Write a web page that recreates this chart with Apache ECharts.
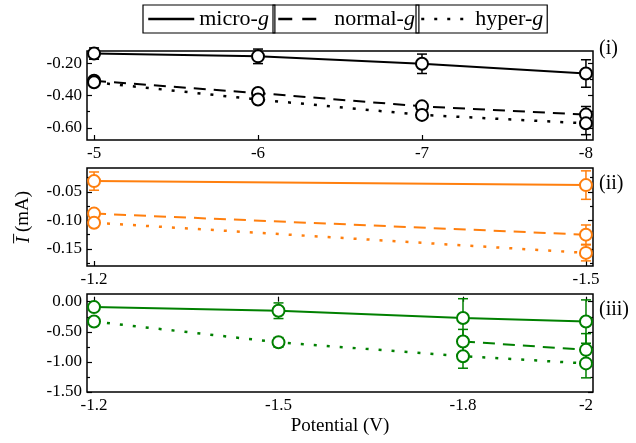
<!DOCTYPE html>
<html><head><meta charset="utf-8">
<script src="https://cdn.jsdelivr.net/npm/echarts@6/dist/echarts.min.js"></script>
<style>html,body{margin:0;padding:0;background:#fff}#c{width:636px;height:443px}</style>
</head><body><div id="c"></div>
<script>
// ---------- Data: panel (i) ----------
const potentialsI = [-5, -6, -7, -8];
const microI = [-0.141, -0.158, -0.204, -0.264];
const microIErr = [0.035, 0.045, 0.06, 0.085];
const normalI = [-0.309, -0.385, -0.467, -0.518];
const normalIErr = [0.01, 0.015, 0.02, 0.05];
const hyperI = [-0.318, -0.425, -0.52, -0.572];
const hyperIErr = [0.01, 0.015, 0.015, 0.07];
// ---------- Data: panel (ii) ----------
const potentialsII = [-1.2, -1.5];
const microII = [-0.031, -0.038];
const microIIErr = [0.016, 0.025];
const normalII = [-0.088, -0.125];
const normalIIErr = [0.006, 0.017];
const hyperII = [-0.104, -0.157];
const hyperIIErr = [0.006, 0.014];
// ---------- Data: panel (iii) ----------
const potentialsIII = [-1.2, -1.5, -1.8, -2.0];
const microIII = [-0.09, -0.15, -0.27, -0.33];
const microIIIErr = [0.05, 0.13, 0.32, 0.36];
const normalIII = [null, null, -0.66, -0.80];
const normalIIIErr = [null, null, 0.2, 0.27];
const hyperIII = [-0.33, -0.675, -0.905, -1.025];
const hyperIIIErr = [0.05, 0.08, 0.2, 0.24];
// ---------- Tick labels ----------
const xTicksI = [-5, -6, -7, -8];
const xTicksII = [-1.2, -1.5];
const xTicksIII = [-1.2, -1.5, -1.8, -2];
const yTicksI = [-0.2, -0.4, -0.6];
const yMinorI = [-0.3, -0.5];
const yTicksII = [-0.05, -0.10, -0.15];
const yMinorII = [-0.025, -0.075, -0.125, -0.175];
const yTicksIII = [0, -0.5, -1.0, -1.5];
const yMinorIII = [-0.25, -0.75, -1.25];
const seriesNames = ['micro-g', 'normal-g', 'hyper-g'];
const panelLabels = ['(i)', '(ii)', '(iii)'];

const FONT = 'Liberation Serif';
const colors = ['#000000', '#ff7f0e', '#008000'];
const lineTypes = ['solid', [12, 8], [3, 10]];
const lineWidths = [2, 2, 2.5];

const panels = [
  {pot: potentialsI, vals: [microI, normalI, hyperI], errs: [microIErr, normalIErr, hyperIErr],
   xt: xTicksI, yt: yTicksI, ym: yMinorI, xmin: -8.043, xmax: -4.957, ymin: -0.675, ymax: -0.125,
   top: 51, height: 89},
  {pot: potentialsII, vals: [microII, normalII, hyperII], errs: [microIIErr, normalIIErr, hyperIIErr],
   xt: xTicksII, yt: yTicksII, ym: yMinorII, xmin: -1.5043, xmax: -1.1957, ymin: -0.18, ymax: -0.008,
   top: 168, height: 98},
  {pot: potentialsIII, vals: [microIII, normalIII, hyperIII], errs: [microIIIErr, normalIIIErr, hyperIIIErr],
   xt: xTicksIII, yt: yTicksIII, ym: yMinorIII, xmin: -2.0114, xmax: -1.1886, ymin: -1.5, ymax: 0.128,
   top: 294, height: 98}
];

const grid = [], xAxis = [], yAxis = [], series = [], title = [];
const labelTop = [39, 174, 300];
panels.forEach((p, g) => {
  grid.push({left: 87, right: 43, top: p.top, height: p.height, show: true,
    borderColor: '#000', borderWidth: 1.5, backgroundColor: 'transparent'});
  const xa = {type: 'value', gridIndex: g, min: p.xmin, max: p.xmax, inverse: true,
    axisLine: {show: false}, splitLine: {show: false},
    axisTick: {show: true, inside: true, length: 5, customValues: p.xt, lineStyle: {color: '#000', width: 1.2}},
    axisLabel: {customValues: p.xt, formatter: v => String(Math.round(v * 10) / 10), fontSize: 17,
      fontFamily: FONT, color: '#000', margin: 5}};
  if (g === 2) {
    xa.name = 'Potential (V)'; xa.nameLocation = 'middle'; xa.nameGap = 25;
    xa.nameTextStyle = {fontSize: 19, fontFamily: FONT, color: '#000'};
  }
  xAxis.push(xa);
  ['left', 'right'].forEach(pos => {
    const major = {type: 'value', gridIndex: g, position: pos, min: p.ymin, max: p.ymax,
      axisLine: {show: false}, splitLine: {show: false},
      axisTick: {show: true, inside: true, length: 5, customValues: p.yt, lineStyle: {color: '#000', width: 1.2}},
      axisLabel: pos === 'left' ? {customValues: p.yt, formatter: v => v.toFixed(2), fontSize: 17,
        fontFamily: FONT, color: '#000', margin: 5} : {show: false}};
    if (pos === 'left' && g === 1) {
      major.name = '{it|I\u0305} (mA)'; major.nameLocation = 'middle'; major.nameGap = 54; major.nameRotate = 90;
      major.nameTextStyle = {fontSize: 19, fontFamily: FONT, color: '#000',
        rich: {it: {fontStyle: 'italic', fontSize: 19, fontFamily: FONT, color: '#000'}}};
    }
    yAxis.push(major);
    yAxis.push({type: 'value', gridIndex: g, position: pos, min: p.ymin, max: p.ymax,
      axisLine: {show: false}, splitLine: {show: false}, axisLabel: {show: false},
      axisTick: {show: true, inside: true, length: 3, customValues: p.ym, lineStyle: {color: '#000', width: 1.2}}});
  });
  title.push({text: panelLabels[g], left: 599, top: labelTop[g], padding: 0,
    textStyle: {fontSize: 20, fontFamily: FONT, fontWeight: 'normal', color: '#000'}});
  const col = colors[g];
  p.vals.forEach((vals, s) => {
    const errData = [];
    p.pot.forEach((x, i) => { if (vals[i] !== null) errData.push([x, vals[i], p.errs[s][i]]); });
    series.push({type: 'custom', xAxisIndex: g, yAxisIndex: g * 4, data: errData, z: 2, silent: true,
      renderItem: (params, api) => {
        const x = api.value(0), y = api.value(1), e = api.value(2);
        const t = api.coord([x, y + e]), b = api.coord([x, y - e]);
        const st = {stroke: col, lineWidth: 1.5};
        return {type: 'group', children: [
          {type: 'line', shape: {x1: t[0], y1: t[1], x2: b[0], y2: b[1]}, style: st},
          {type: 'line', shape: {x1: t[0] - 5, y1: t[1], x2: t[0] + 5, y2: t[1]}, style: st},
          {type: 'line', shape: {x1: b[0] - 5, y1: b[1], x2: b[0] + 5, y2: b[1]}, style: st}]};
      }});
    series.push({type: 'line', name: seriesNames[s], xAxisIndex: g, yAxisIndex: g * 4,
      data: p.pot.map((x, i) => [x, vals[i] === null ? '-' : vals[i]]),
      symbol: 'emptyCircle', symbolSize: 12, connectNulls: false, z: 3,
      lineStyle: {color: col, width: lineWidths[s], type: lineTypes[s]},
      itemStyle: {color: col, borderWidth: 2.4}});
  });
});

const legendCfg = [
  {name: 'micro-g', left: 143, w: 46, type: 'solid', textPad: 0, padR: 6},
  {name: 'normal-g', left: 273, w: 38, type: [14, 10], textPad: 13, padR: 4},
  {name: 'hyper-g', left: 416, w: 46, type: [3, 10], textPad: 3, padR: 4}
];
const legend = legendCfg.map(c => ({
  data: [c.name], left: c.left, top: 5, orient: 'horizontal', selectedMode: false,
  borderColor: '#000', borderWidth: 1.2, padding: [3, c.padR, 3, 4],
  itemWidth: c.w, itemHeight: 14,
  itemStyle: {opacity: 0},
  lineStyle: {color: '#000', width: 2.5, type: c.type},
  formatter: n => n.replace(/g$/, '{it|g}'),
  textStyle: {fontSize: 22, fontFamily: FONT, color: '#000', padding: [0, 0, 0, c.textPad],
    rich: {it: {fontStyle: 'italic', fontSize: 22, fontFamily: FONT, color: '#000'}}}
}));

const chart = echarts.init(document.getElementById('c'), null, {renderer: 'canvas'});
chart.setOption({animation: false, backgroundColor: '#fff', grid, xAxis, yAxis, series, title, legend});
</script></body></html>
